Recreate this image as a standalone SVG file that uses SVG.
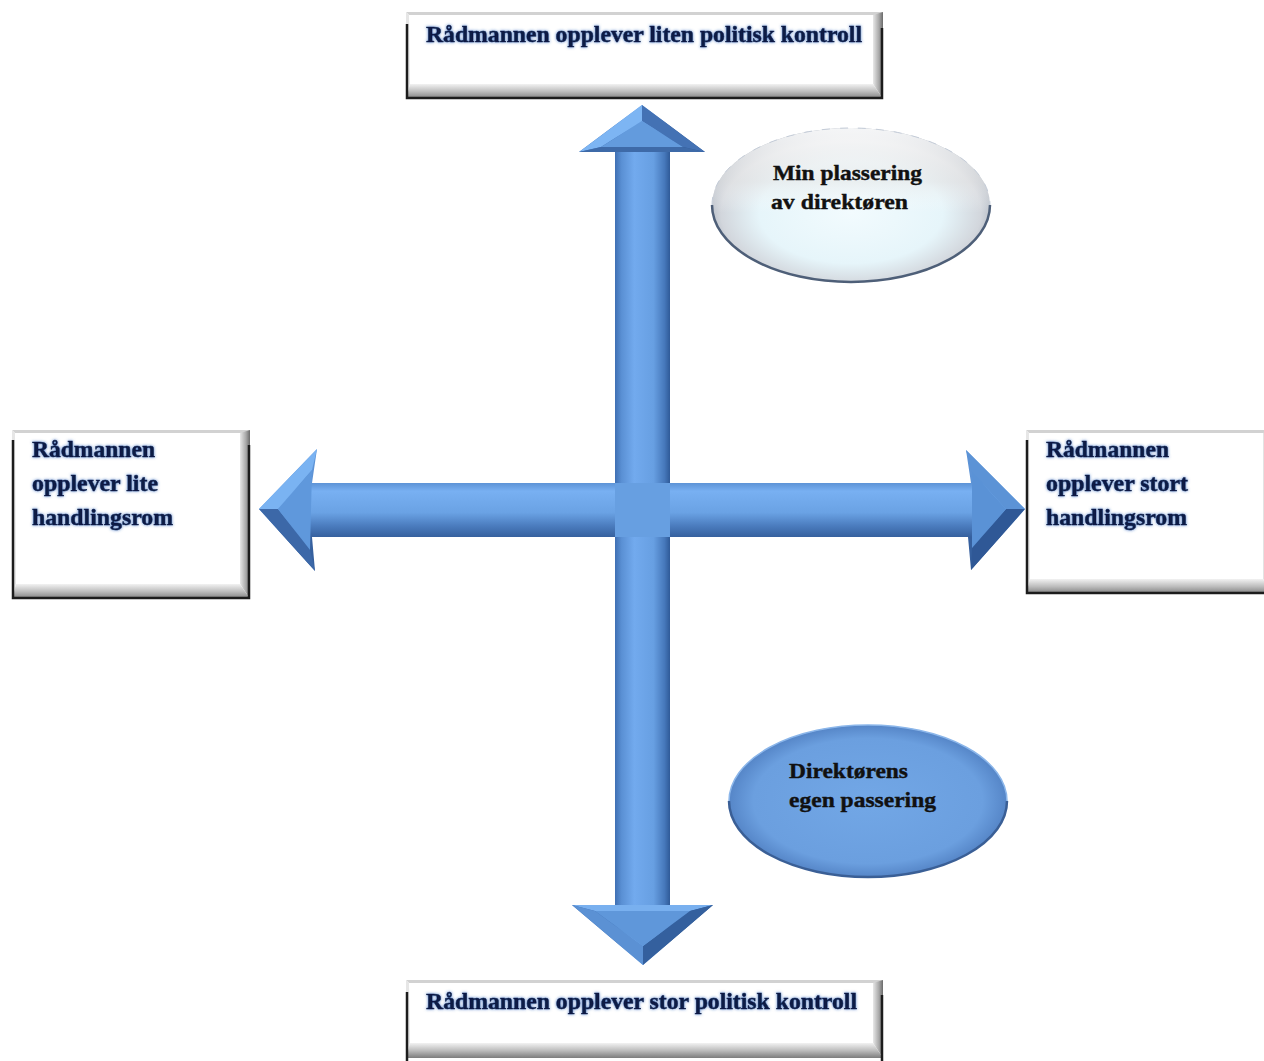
<svg xmlns="http://www.w3.org/2000/svg" width="1264" height="1061" viewBox="0 0 1264 1061">
  <style>
    .face { fill: #ffffff; }
    .bevT { fill: #d2d2d2; }
    .bevL { fill: #e6e6e6; }
    .bevR { fill: url(#gRight); }
    .bevB { fill: url(#gBottom); }
    .edge { stroke: #1c1c1c; stroke-width: 2.5; fill: none; }
    .lbl { font-family: "Liberation Serif", "Times New Roman", serif; font-weight: bold; font-size: 23.5px; fill: #0c1a44; stroke: #0c1a44; stroke-width: 0.5; filter: url(#glow); }
    .olbl { font-family: "Liberation Serif", "Times New Roman", serif; font-weight: bold; font-size: 22px; fill: #111111; stroke: #111111; stroke-width: 0.4; }
  </style>
  <defs>
    <linearGradient id="gBottom" x1="0" y1="0" x2="0" y2="1">
      <stop offset="0" stop-color="#f2f2f2"/>
      <stop offset="0.5" stop-color="#bdbdbd"/>
      <stop offset="1" stop-color="#7d7d7d"/>
    </linearGradient>
    <linearGradient id="gRight" x1="0" y1="0" x2="1" y2="0">
      <stop offset="0" stop-color="#e8e8e8"/>
      <stop offset="0.6" stop-color="#a8a8a8"/>
      <stop offset="1" stop-color="#6a6a6a"/>
    </linearGradient>
    <!-- shaft shading: vertical shaft (left to right) -->
    <linearGradient id="gShaftV" gradientUnits="userSpaceOnUse" x1="615" y1="0" x2="670" y2="0">
      <stop offset="0" stop-color="#3f6fb3"/>
      <stop offset="0.12" stop-color="#5a90d4"/>
      <stop offset="0.35" stop-color="#72aaee"/>
      <stop offset="0.7" stop-color="#679fe2"/>
      <stop offset="0.9" stop-color="#4678bb"/>
      <stop offset="1" stop-color="#2f5a98"/>
    </linearGradient>
    <!-- shaft shading: horizontal shaft (top to bottom) -->
    <linearGradient id="gShaftH" gradientUnits="userSpaceOnUse" x1="0" y1="483" x2="0" y2="537">
      <stop offset="0" stop-color="#5d93d6"/>
      <stop offset="0.15" stop-color="#78b0f2"/>
      <stop offset="0.55" stop-color="#6aa2e4"/>
      <stop offset="0.8" stop-color="#4a7bbd"/>
      <stop offset="1" stop-color="#36609e"/>
    </linearGradient>
    <radialGradient id="gOvalLight" cx="0.5" cy="0.55" r="0.55">
      <stop offset="0" stop-color="#f2fbfe"/>
      <stop offset="0.6" stop-color="#e6f5fa"/>
      <stop offset="0.85" stop-color="#d2d6dc"/>
      <stop offset="1" stop-color="#9aa3b0"/>
    </radialGradient>
    <linearGradient id="gOvalLightTop" x1="0" y1="0" x2="0" y2="1">
      <stop offset="0" stop-color="#ffffff" stop-opacity="0.9"/>
      <stop offset="0.35" stop-color="#e9e9e9" stop-opacity="0.6"/>
      <stop offset="0.55" stop-color="#ffffff" stop-opacity="0"/>
    </linearGradient>
    <radialGradient id="gOvalBlue" cx="0.5" cy="0.5" r="0.55">
      <stop offset="0" stop-color="#72a7e6"/>
      <stop offset="0.75" stop-color="#6b9fdf"/>
      <stop offset="0.92" stop-color="#5484c6"/>
      <stop offset="1" stop-color="#3d66a4"/>
    </radialGradient>
    <filter id="glow" x="-10%" y="-30%" width="120%" height="160%">
      <feGaussianBlur in="SourceAlpha" stdDeviation="1.6" result="b"/>
      <feFlood flood-color="#3a6cc0" flood-opacity="0.9"/>
      <feComposite in2="b" operator="in" result="g"/>
      <feMerge>
        <feMergeNode in="g"/>
        <feMergeNode in="SourceGraphic"/>
      </feMerge>
    </filter>
  </defs>

  <rect width="1264" height="1061" fill="#ffffff"/>

  <!-- connectors: the four-way arrow cross -->
  <g id="connectors">
    <!-- vertical double arrow -->
    <path d="M642,105 L705,152 L670,152 L670,905 L713,905 L643,965 L572,905 L615,905 L615,152 L579,152 Z" fill="url(#gShaftV)"/>
    <!-- top head facets -->
    <polygon points="642,105 579,152 601,147 642,121" fill="#7db5f3"/>
    <polygon points="642,105 705,152 683,147 642,121" fill="#4472b4"/>
    <polygon points="579,152 705,152 683,147 601,147" fill="#3e6aa8"/>
    <polygon points="642,121 601,147 683,147" fill="#639bdd"/>
    <!-- bottom head facets -->
    <polygon points="572,905 713,905 690,911 595,911" fill="#79b0ef"/>
    <polygon points="572,905 643,965 643,946 595,911" fill="#5b91d4"/>
    <polygon points="713,905 643,965 643,946 690,911" fill="#34609e"/>
    <polygon points="595,911 690,911 643,946" fill="#5f97da"/>

    <!-- horizontal double arrow -->
    <path d="M259,509 L317,449 L312,483 L971,483 L966,450 L1025,509 L971,570 L968,537 L312,537 L315,571 Z" fill="url(#gShaftH)"/>
    <!-- left head facets -->
    <polygon points="259,509 317,449 312,470 278,509" fill="#7ab3f2"/>
    <polygon points="259,509 315,571 310,550 278,509" fill="#3c68a8"/>
    <polygon points="278,509 312,470 310,550" fill="#5f98dc"/>
    <!-- right head facets -->
    <polygon points="1025,509 966,450 972,472 1006,509" fill="#5c93d6"/>
    <polygon points="1025,509 971,570 972,548 1006,509" fill="#2f5896"/>
    <polygon points="1006,509 972,472 972,548" fill="#5a92d6"/>

    <!-- crossing -->
    <rect x="615" y="483" width="55" height="54" fill="#679fe1"/>
  </g>

  <!-- top box -->
  <g id="box-top">
    <rect x="406" y="12" width="477" height="87" class="face"/>
    <polygon points="406,12 883,12 880,15 409,15" class="bevT"/>
    <polygon points="406,12 409,15 410,84 406,99" class="bevL"/>
    <polygon points="883,12 883,99 873,84 873,15" class="bevR"/>
    <polygon points="406,99 883,99 873,84 410,84" class="bevB"/>
    <polyline points="407,24 407,98 882,98 882,28" class="edge"/>
    <text x="426" y="42" class="lbl" textLength="436" lengthAdjust="spacingAndGlyphs">Rådmannen opplever liten politisk kontroll</text>
  </g>

  <!-- bottom box -->
  <g id="box-bottom">
    <rect x="406" y="980" width="477" height="81" class="face"/>
    <polygon points="406,980 883,980 880,983 409,983" class="bevT"/>
    <polygon points="406,980 409,983 410,1043 406,1058" class="bevL"/>
    <polygon points="883,980 883,1058 873,1043 873,983" class="bevR"/>
    <polygon points="406,1058 883,1058 873,1043 410,1043" class="bevB"/>
    <polyline points="407,992 407,1061" class="edge"/>
    <polyline points="882,995 882,1061" class="edge"/>
    <text x="426" y="1009" class="lbl" textLength="431" lengthAdjust="spacingAndGlyphs">Rådmannen opplever stor politisk kontroll</text>
  </g>

  <!-- left box -->
  <g id="box-left">
    <rect x="12" y="430" width="238" height="169" class="face"/>
    <polygon points="12,430 250,430 247,433 15,433" class="bevT"/>
    <polygon points="12,430 15,433 16,584 12,599" class="bevL"/>
    <polygon points="250,430 250,599 240,584 240,433" class="bevR"/>
    <polygon points="12,599 250,599 240,584 16,584" class="bevB"/>
    <polyline points="13,440 13,598 249,598 249,445" class="edge"/>
    <text x="32" y="457" class="lbl" textLength="123" lengthAdjust="spacingAndGlyphs">Rådmannen</text>
    <text x="32" y="491" class="lbl" textLength="126" lengthAdjust="spacingAndGlyphs">opplever lite</text>
    <text x="32" y="525" class="lbl" textLength="141" lengthAdjust="spacingAndGlyphs">handlingsrom</text>
  </g>

  <!-- right box -->
  <g id="box-right">
    <rect x="1026" y="430" width="247" height="164" class="face"/>
    <polygon points="1026,430 1273,430 1270,433 1029,433" class="bevT"/>
    <polygon points="1026,430 1029,433 1030,579 1026,594" class="bevL"/>
    <polygon points="1273,430 1273,594 1263,579 1263,433" class="bevR"/>
    <polygon points="1026,594 1273,594 1263,579 1030,579" class="bevB"/>
    <polyline points="1027,440 1027,593 1264,593" class="edge"/>
    <text x="1046" y="457" class="lbl" textLength="123" lengthAdjust="spacingAndGlyphs">Rådmannen</text>
    <text x="1046" y="491" class="lbl" textLength="142" lengthAdjust="spacingAndGlyphs">opplever stort</text>
    <text x="1046" y="525" class="lbl" textLength="141" lengthAdjust="spacingAndGlyphs">handlingsrom</text>
  </g>

  <!-- upper oval -->
  <g id="oval-min">
    <ellipse cx="851" cy="205" rx="139" ry="77" fill="url(#gOvalLight)"/>
    <ellipse cx="851" cy="205" rx="139" ry="77" fill="url(#gOvalLightTop)"/>
    <path d="M712,205 A139,77 0 0 0 990,205" fill="none" stroke="#4e5f78" stroke-width="2.5"/>
    <path d="M712,205 A139,77 0 0 1 990,205" fill="none" stroke="#c4ccd8" stroke-width="1" stroke-dasharray="8 10"/>
    <text x="773" y="180" class="olbl" textLength="149" lengthAdjust="spacingAndGlyphs">Min plassering</text>
    <text x="771" y="209" class="olbl" textLength="137" lengthAdjust="spacingAndGlyphs">av direktøren</text>
  </g>

  <!-- lower oval -->
  <g id="oval-egen">
    <ellipse cx="868" cy="801" rx="139" ry="76" fill="url(#gOvalBlue)"/>
    <path d="M729,801 A139,76 0 0 0 1007,801" fill="none" stroke="#3a5f96" stroke-width="2.5"/>
    <path d="M729,801 A139,76 0 0 1 1007,801" fill="none" stroke="#8bb6ea" stroke-width="1.5"/>
    <text x="789" y="778" class="olbl" textLength="119" lengthAdjust="spacingAndGlyphs">Direktørens</text>
    <text x="789" y="807" class="olbl" textLength="147" lengthAdjust="spacingAndGlyphs">egen passering</text>
  </g>
</svg>
